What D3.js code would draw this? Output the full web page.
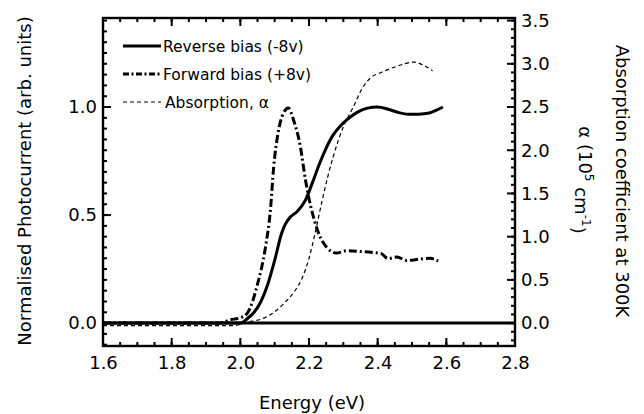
<!DOCTYPE html>
<html>
<head>
<meta charset="utf-8">
<script src="https://cdn.jsdelivr.net/npm/d3@7"></script>
<style>
  html, body { margin: 0; padding: 0; background: #fff; }
  svg { display: block; }
  text { font-family: "DejaVu Sans", sans-serif; fill: #000; }
</style>
</head>
<body>
<svg id="chart" width="644" height="414"></svg>
<script>
// ---------- data ----------
const revE = [1.60,2.00,2.02,2.04,2.06,2.08,2.10,2.12,2.13,2.145,2.165,2.19,2.21,2.23,2.25,2.27,2.29,2.31,2.34,2.37,2.40,2.43,2.46,2.49,2.52,2.55,2.57,2.59];
const revV = [0,0,0.02,0.05,0.10,0.18,0.29,0.415,0.455,0.49,0.515,0.57,0.65,0.735,0.81,0.87,0.91,0.94,0.975,0.995,1.0,0.99,0.975,0.967,0.967,0.972,0.985,1.0];

const fwdE = [1.60,1.94,1.97,2.00,2.02,2.05,2.072,2.088,2.097,2.11,2.125,2.14,2.155,2.175,2.19,2.205,2.215,2.232,2.252,2.28,2.31,2.36,2.41,2.43,2.456,2.485,2.523,2.553,2.576];
const fwdV = [0,0,0.015,0.025,0.045,0.18,0.34,0.53,0.72,0.88,0.97,0.995,0.94,0.815,0.66,0.54,0.48,0.40,0.35,0.324,0.335,0.33,0.322,0.298,0.306,0.29,0.296,0.30,0.287];

const absE = [1.60,1.98,2.02,2.07,2.10,2.13,2.16,2.18,2.20,2.22,2.24,2.27,2.30,2.329,2.357,2.38,2.41,2.455,2.505,2.53,2.56];
const absA = [-0.03,-0.03,0.01,0.06,0.13,0.24,0.38,0.52,0.75,1.08,1.45,1.92,2.27,2.5,2.73,2.84,2.9,2.97,3.02,2.99,2.92];

const xMajor = [1.6,1.8,2.0,2.2,2.4,2.6,2.8];
const xMinor = d3.range(1.6, 2.8001, 0.05);
const yLMajor = [0.0,0.5,1.0];
const yLMinor = d3.range(-0.1, 1.4001, 0.05);
const yRMajor = [0.0,0.5,1.0,1.5,2.0,2.5,3.0,3.5];
const yRMinor = d3.range(-0.2, 3.5001, 0.1);

const legendLabels = ["Reverse bias (-8v)", "Forward bias (+8v)", "Absorption, \u03b1"];

// ---------- layout ----------
const L = 103, R = 515, T = 18, B = 346;
const svg = d3.select("#chart");

const x = d3.scaleLinear().domain([1.6, 2.8]).range([L, R]);
const yL = d3.scaleLinear().domain([-0.106, 1.412]).range([B, T]);
const yR = d3.scaleLinear().domain([-0.265, 3.53]).range([B, T]);

function styleAxis(g) {
  g.select(".domain").remove();
  g.selectAll(".tick line").remove();
  g.selectAll(".tick text").style("font-family", '"DejaVu Sans", sans-serif').style("font-size", "18px").attr("fill", "#000");
}

// tick labels via d3 axes
svg.append("g").attr("transform", `translate(0,${B})`)
  .call(d3.axisBottom(x).tickValues(xMajor).tickSize(0).tickPadding(10).tickFormat(d3.format(".1f"))).call(styleAxis);
svg.append("g").attr("transform", `translate(${L},0)`)
  .call(d3.axisLeft(yL).tickValues(yLMajor).tickSize(0).tickPadding(6).tickFormat(d3.format(".1f"))).call(styleAxis);
svg.append("g").attr("transform", `translate(${R},0)`)
  .call(d3.axisRight(yR).tickValues(yRMajor).tickSize(0).tickPadding(6).tickFormat(d3.format(".1f"))).call(styleAxis);

// tick marks (inward)
const tk = svg.append("g").attr("stroke", "#000").attr("stroke-width", 2);
function hTicks(vals, len) { // bottom and top
  vals.forEach(v => {
    const px = x(v);
    tk.append("line").attr("x1", px).attr("x2", px).attr("y1", B).attr("y2", B - len);
    tk.append("line").attr("x1", px).attr("x2", px).attr("y1", T).attr("y2", T + len);
  });
}
hTicks(xMinor, 4);
hTicks(xMajor, 8);
yLMinor.forEach(v => tk.append("line").attr("x1", L).attr("x2", L + 4).attr("y1", yL(v)).attr("y2", yL(v)));
yLMajor.forEach(v => tk.append("line").attr("x1", L).attr("x2", L + 8).attr("y1", yL(v)).attr("y2", yL(v)));
yRMinor.forEach(v => tk.append("line").attr("x1", R).attr("x2", R - 4).attr("y1", yR(v)).attr("y2", yR(v)));
yRMajor.forEach(v => tk.append("line").attr("x1", R).attr("x2", R - 8).attr("y1", yR(v)).attr("y2", yR(v)));

// frame
svg.append("rect").attr("x", L).attr("y", T).attr("width", R - L).attr("height", B - T)
  .attr("fill", "none").attr("stroke", "#000").attr("stroke-width", 2.4);

// curves
const lineL = d3.line().x(d => x(d[0])).y(d => yL(d[1])).curve(d3.curveMonotoneX);
const lineR = d3.line().x(d => x(d[0])).y(d => yR(d[1])).curve(d3.curveMonotoneX);

svg.append("path").datum(d3.zip(absE, absA)).attr("d", lineR)
  .attr("fill", "none").attr("stroke", "#000").attr("stroke-width", 1.2).attr("stroke-dasharray", "4,3");

// zero line
svg.append("line").attr("x1", x(1.6)).attr("x2", x(2.8)).attr("y1", yL(0)).attr("y2", yL(0))
  .attr("stroke", "#000").attr("stroke-width", 3);

svg.append("path").datum(d3.zip(fwdE, fwdV)).attr("d", lineL)
  .attr("fill", "none").attr("stroke", "#000").attr("stroke-width", 3).attr("stroke-dasharray", "8,3,2,3");
svg.append("path").datum(d3.zip(revE, revV)).attr("d", lineL)
  .attr("fill", "none").attr("stroke", "#000").attr("stroke-width", 3);

// legend
const legY = [46, 74, 102];
const legStyles = [
  {w: 3, dash: null},
  {w: 3, dash: "6,2.5,2,2.5"},
  {w: 1.2, dash: "4,3"}
];
legendLabels.forEach((lab, i) => {
  const ln = svg.append("line").attr("x1", 123).attr("x2", 161).attr("y1", legY[i]).attr("y2", legY[i])
    .attr("stroke", "#000").attr("stroke-width", legStyles[i].w);
  if (legStyles[i].dash) ln.attr("stroke-dasharray", legStyles[i].dash);
  svg.append("text").attr("x", i === 2 ? 165 : 163).attr("y", legY[i]).attr("dy", "0.36em")
    .style("font-size", "15.5px").text(lab);
});

// axis titles
svg.append("text").attr("x", 312).attr("y", 403).attr("dy", "0.36em").attr("text-anchor", "middle")
  .style("font-size", "18px").text("Energy (eV)");

svg.append("text").attr("transform", "translate(25,181) rotate(-90)").attr("dy", "0.36em")
  .attr("text-anchor", "middle").style("font-size", "18px").text("Normalised Photocurrent (arb. units)");

svg.append("text").attr("transform", "translate(622,181) rotate(90)").attr("dy", "0.36em")
  .attr("text-anchor", "middle").style("font-size", "18px").text("Absorption coefficient at 300K");

const t2 = svg.append("text").attr("transform", "translate(585,180) rotate(90)").attr("dy", "0.36em")
  .attr("text-anchor", "middle").style("font-size", "18px");
t2.append("tspan").text("\u03b1 (10");
t2.append("tspan").attr("dy", "-0.55em").style("font-size", "12px").text("5");
t2.append("tspan").attr("dy", "0.55em").text(" cm");
t2.append("tspan").attr("dy", "-0.55em").style("font-size", "12px").text("-1");
t2.append("tspan").attr("dy", "0.55em").text(")");
</script>
</body>
</html>
